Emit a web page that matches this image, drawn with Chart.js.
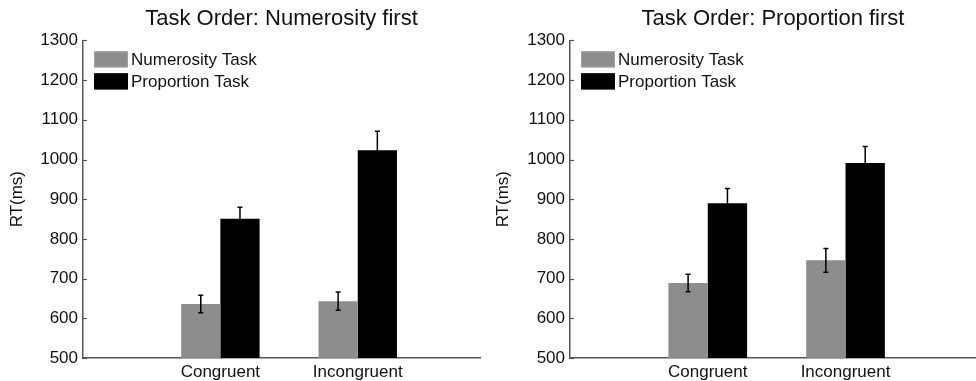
<!DOCTYPE html>
<html>
<head>
<meta charset="utf-8">
<script src="https://cdn.jsdelivr.net/npm/chart.js@4.4.1/dist/chart.umd.min.js"></script>
<style>
  html, body { margin: 0; padding: 0; background: #ffffff; }
  #wrap { position: relative; width: 976px; height: 381px; overflow: hidden; }
  #c1 { position: absolute; left: 0; top: 0; }
  #c2 { position: absolute; left: 486px; top: 0; }
</style>
</head>
<body>
<div id="wrap">
  <canvas id="c1" width="486" height="381"></canvas>
  <canvas id="c2" width="490" height="381"></canvas>
</div>
<script>
// ---- data ----
const categories = ['Congruent', 'Incongruent'];
const seriesNames = ['Numerosity Task', 'Proportion Task'];

// Panel A: Task Order: Numerosity first
const numerosityFirst_numerosity = [636, 643];
const numerosityFirst_proportion = [851, 1023];
const numerosityFirst_numerosityErr = [22, 23];
const numerosityFirst_proportionErr = [29, 48];

// Panel B: Task Order: Proportion first
const proportionFirst_numerosity = [689, 746];
const proportionFirst_proportion = [890, 991];
const proportionFirst_numerosityErr = [22, 30];
const proportionFirst_proportionErr = [37, 42];

const yMin = 500, yMax = 1300, yStep = 100;
const panelTitles = ['Task Order: Numerosity first', 'Task Order: Proportion first'];
const yAxisTitle = 'RT(ms)';

// ---- style ----
const FONT = "'Liberation Sans', Arial, sans-serif";
const TEXT = '#111111';
const AXIS = '#555555';
const GRAY = '#8d8d8d';
const BLACK = '#000000';

const errorBarPlugin = {
  id: 'errorBars',
  afterDatasetsDraw(chart) {
    const ctx = chart.ctx;
    const ys = chart.scales.y;
    ctx.save();
    ctx.strokeStyle = '#000000';
    ctx.lineWidth = 1.5;
    chart.data.datasets.forEach((ds, d) => {
      const meta = chart.getDatasetMeta(d);
      meta.data.forEach((el, i) => {
        const v = ds.data[i].y;
        const e = ds.errors[i];
        const x = el.x;
        const yt = ys.getPixelForValue(v + e);
        const yb = ys.getPixelForValue(v - e);
        ctx.beginPath();
        ctx.moveTo(x, yt); ctx.lineTo(x, yb);
        ctx.moveTo(x - 2.5, yt); ctx.lineTo(x + 2.5, yt);
        ctx.moveTo(x - 2.5, yb); ctx.lineTo(x + 2.5, yb);
        ctx.stroke();
      });
    });
    ctx.restore();
  }
};

const innerTicksPlugin = {
  id: 'innerTicks',
  afterDraw(chart) {
    const ctx = chart.ctx;
    const ys = chart.scales.y;
    const left = chart.chartArea.left;
    ctx.save();
    ctx.strokeStyle = AXIS;
    ctx.lineWidth = 1.2;
    ys.ticks.forEach(t => {
      const y = Math.round(ys.getPixelForValue(t.value)) + 0.5;
      ctx.beginPath();
      ctx.moveTo(left, y); ctx.lineTo(left + 4, y);
      ctx.stroke();
    });
    ctx.restore();
  }
};

const boxLegendPlugin = {
  id: 'boxLegend',
  afterDraw(chart) {
    const ctx = chart.ctx;
    const ca = chart.chartArea;
    const x0 = ca.left + 11;
    let y0 = ca.top + 11;
    ctx.save();
    ctx.font = '17px ' + FONT;
    ctx.textBaseline = 'middle';
    ctx.textAlign = 'left';
    chart.data.datasets.forEach(ds => {
      ctx.fillStyle = ds.backgroundColor;
      ctx.fillRect(x0, y0, 34, 16);
      ctx.strokeStyle = ds.legendBorder;
      ctx.lineWidth = 1;
      ctx.strokeRect(x0 + 0.5, y0 + 0.5, 33, 15);
      ctx.fillStyle = TEXT;
      ctx.fillText(ds.label, x0 + 37, y0 + 8.5);
      y0 += 22;
    });
    ctx.restore();
  }
};

function makePanel(canvasId, title, numVals, propVals, numErr, propErr, xMax, yAxisWidth, padRight) {
  const toPoints = vals => categories.map((c, i) => ({ x: i + 1, y: vals[i] }));
  return new Chart(document.getElementById(canvasId), {
    type: 'bar',
    data: {
      datasets: [
        { label: seriesNames[0], data: toPoints(numVals), errors: numErr,
          backgroundColor: GRAY, legendBorder: '#a0a0a0', borderWidth: 0,
          categoryPercentage: 0.571, barPercentage: 1.0 },
        { label: seriesNames[1], data: toPoints(propVals), errors: propErr,
          backgroundColor: BLACK, legendBorder: '#000000', borderWidth: 0,
          categoryPercentage: 0.571, barPercentage: 1.0 }
      ]
    },
    options: {
      responsive: false,
      animation: false,
      events: [],
      layout: { padding: { left: 0, right: padRight, top: 0, bottom: 0 } },
      plugins: {
        legend: { display: false },
        tooltip: { enabled: false },
        title: {
          display: true, text: title, fullSize: false, color: TEXT,
          font: { family: FONT, size: 22, weight: 'normal' },
          padding: { top: 6, bottom: 8 }
        }
      },
      scales: {
        x: {
          type: 'linear', min: 0, max: xMax, offset: false,
          grid: { display: false, drawTicks: false },
          border: { display: true, color: AXIS, width: 1.5 },
          afterBuildTicks: s => { s.ticks = categories.map((c, i) => ({ value: i + 1 })); },
          afterFit: s => { s.height = 23; },
          ticks: {
            color: TEXT, padding: 4, maxRotation: 0, autoSkip: false,
            font: { family: FONT, size: 17 },
            callback: v => categories[Math.round(v) - 1] || ''
          }
        },
        y: {
          min: yMin, max: yMax,
          grid: { display: false, drawTicks: false },
          border: { display: true, color: AXIS, width: 1.5 },
          afterFit: s => { s.width = yAxisWidth; },
          ticks: {
            stepSize: yStep, color: TEXT, padding: 5,
            font: { family: FONT, size: 17 },
            callback: v => String(v)
          },
          title: {
            display: true, text: yAxisTitle, color: TEXT,
            font: { family: FONT, size: 17 },
            padding: { top: 7, bottom: 0 }
          }
        }
      }
    },
    plugins: [errorBarPlugin, innerTicksPlugin, boxLegendPlugin]
  });
}

makePanel('c1', panelTitles[0],
  numerosityFirst_numerosity, numerosityFirst_proportion,
  numerosityFirst_numerosityErr, numerosityFirst_proportionErr,
  2.89, 83, 6);
makePanel('c2', panelTitles[1],
  proportionFirst_numerosity, proportionFirst_proportion,
  proportionFirst_numerosityErr, proportionFirst_proportionErr,
  2.947, 84, 0);
</script>
</body>
</html>
